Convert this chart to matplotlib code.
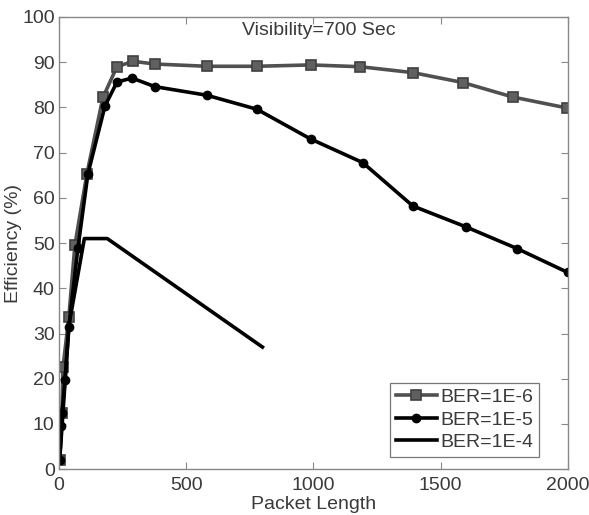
import matplotlib
matplotlib.use("Agg")
import matplotlib.pyplot as plt

# packet length vs efficiency (%)
len_1e6 = [3, 12, 16, 39, 63, 110, 173, 228, 291, 377, 581, 778, 990, 1185, 1391, 1588, 1784, 1995]
eff_1e6 = [2.0, 12.5, 22.5, 33.6, 49.6, 65.3, 82.2, 89.0, 90.2, 89.6, 89.1, 89.1, 89.4, 89.0, 87.7, 85.5, 82.3, 79.9]

len_1e5 = [3, 10, 12, 24, 39, 75, 114, 181, 228, 287, 377, 581, 778, 990, 1194, 1391, 1599, 1800, 2000]
eff_1e5 = [2.0, 9.5, 12.4, 19.7, 31.5, 49.0, 65.3, 80.3, 85.6, 86.5, 84.6, 82.7, 79.6, 73.0, 67.8, 58.2, 53.6, 48.8, 43.5]

len_1e4 = [3, 40, 100, 190, 800]
eff_1e4 = [2.0, 32.0, 51.0, 51.0, 27.0]

labels = ["BER=1E-6", "BER=1E-5", "BER=1E-4"]
x_ticks = [0, 500, 1000, 1500, 2000]
y_ticks = list(range(0, 101, 10))

txt = "#3a3a3a"
plt.rcParams["font.family"] = ["Liberation Sans", "DejaVu Sans"]
plt.rcParams["font.size"] = 14

fig = plt.figure(figsize=(5.89, 5.15), dpi=100)
ax = fig.add_axes([0.100, 0.089, 0.864, 0.878])

ax.plot(len_1e6, eff_1e6, color="#505050", lw=2.6, marker="s", ms=7,
        mfc="#606060", mec="#404040", mew=1.2, label=labels[0])
ax.plot(len_1e5, eff_1e5, color="black", lw=2.6, marker="o", ms=6,
        mfc="black", mec="black", label=labels[1])
ax.plot(len_1e4, eff_1e4, color="black", lw=2.6, label=labels[2])

ax.set_xlim(0, 2000)
ax.set_ylim(0, 100)
ax.set_xticks(x_ticks)
ax.set_yticks(y_ticks)
ax.tick_params(direction="in", top=True, right=True, length=5, width=0.8,
               colors="#888888", labelcolor=txt, labelsize=14)
ax.tick_params(axis="x", pad=6)
ax.tick_params(axis="y", pad=3)
for sp in ax.spines.values():
    sp.set_color("#888888")
    sp.set_linewidth(1.0)

ax.set_xlabel("Packet Length", color=txt, fontsize=14, labelpad=1)
ax.set_ylabel("Efficiency (%)", color=txt, fontsize=14, labelpad=0)
ax.text(0.51, 0.988, "Visibility=700 Sec", transform=ax.transAxes,
        ha="center", va="top", color=txt, fontsize=14)

leg = ax.legend(loc="lower right", bbox_to_anchor=(0.944, 0.027), fancybox=False,
                edgecolor="#555555", fontsize=14, handlelength=2.1,
                handletextpad=0.2, borderpad=0.3, labelspacing=0.25,
                borderaxespad=0)
leg.get_frame().set_linewidth(0.9)
for t in leg.get_texts():
    t.set_color(txt)

fig.savefig("out.png", dpi=100)
